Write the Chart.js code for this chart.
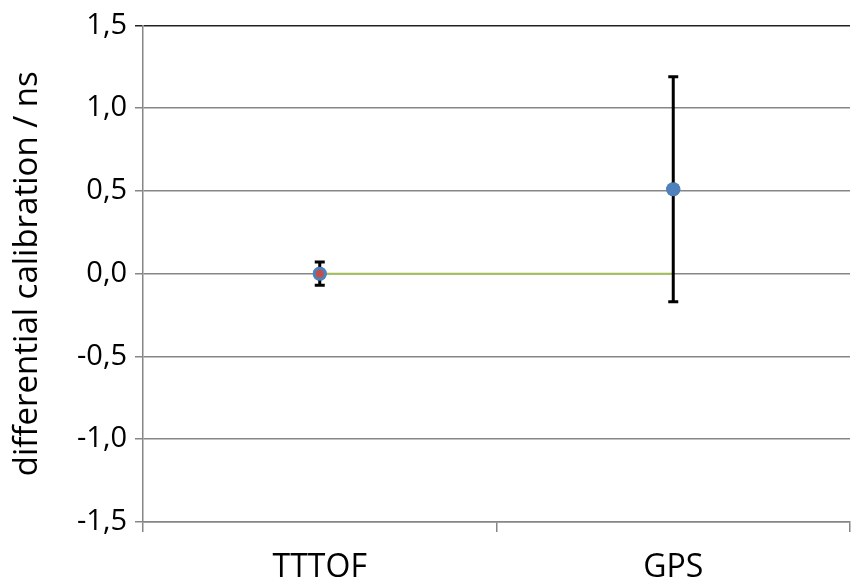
<!DOCTYPE html>
<html><head><meta charset="utf-8">
<script src="https://cdn.jsdelivr.net/npm/chart.js@4"></script>
<style>html,body{margin:0;padding:0;background:#fff;}#wrap{width:857px;height:586px;}</style>
</head><body><div id="wrap"><canvas id="c" width="857" height="586"></canvas></div>
<script>
const categories = ['TTTOF', 'GPS'];
const values = [0.0, 0.51];
const errLow = [0.07, 0.68];
const errHigh = [0.07, 0.68];
const referenceLine = [0, 0];
const yTicks = [-1.5, -1.0, -0.5, 0.0, 0.5, 1.0, 1.5];

const errorBars = {
  id: 'errorBars',
  afterDatasetsDraw(chart) {
    const ctx = chart.ctx, x = chart.scales.x, y = chart.scales.y;
    ctx.save();
    ctx.strokeStyle = '#000'; ctx.lineWidth = 3;
    values.forEach((v, i) => {
      const px = x.getPixelForValue(i);
      const yt = y.getPixelForValue(v + errHigh[i]);
      const yb = y.getPixelForValue(v - errLow[i]);
      ctx.beginPath();
      ctx.moveTo(px, yt); ctx.lineTo(px, yb);
      ctx.moveTo(px - 5, yt); ctx.lineTo(px + 5, yt);
      ctx.moveTo(px - 5, yb); ctx.lineTo(px + 5, yb);
      ctx.stroke();
    });
    ctx.restore();
    chart.getDatasetMeta(1).data.forEach(p => p.draw(ctx, chart.chartArea));
    chart.getDatasetMeta(2).data.forEach(p => p.draw(ctx, chart.chartArea));
  }
};

new Chart(document.getElementById('c'), {
  type: 'line',
  data: {
    labels: categories,
    datasets: [
      { data: referenceLine, borderColor: '#A4BF5A', borderWidth: 2, pointRadius: 0, order: 3 },
      { data: values, showLine: false, pointRadius: 7, pointBackgroundColor: '#4F81BD', pointBorderColor: '#4F81BD', pointBorderWidth: 0, order: 2 },
      { data: [values[0], null], showLine: false, pointRadius: 4, pointBackgroundColor: '#C0504D', pointBorderColor: '#C0504D', pointBorderWidth: 0, order: 1 }
    ]
  },
  plugins: [errorBars],
  options: {
    responsive: false, animation: false,
    layout: { padding: { top: 20, right: 0, left: 0, bottom: 0 } },
    plugins: { legend: { display: false }, tooltip: { enabled: false } },
    scales: {
      x: {
        offset: true,
        grid: { display: true, drawOnChartArea: false, offset: true, color: '#868686', lineWidth: 1.5, tickLength: 10 },
        border: { display: true, color: '#868686', width: 1.5 },
        ticks: { color: '#000', font: { family: 'Open Sans', size: 32 }, padding: 17 },
        afterFit: s => { s.height = 64; }
      },
      y: {
        min: -1.5, max: 1.5,
        afterBuildTicks: s => { s.ticks = yTicks.map(v => ({ value: v })); },
        grid: { color: c => (c.tick && c.tick.value === 1.5) ? '#222' : '#868686', lineWidth: 1.5, tickLength: 8 },
        border: { display: true, color: '#868686', width: 1.5 },
        ticks: { color: '#000', font: { family: 'Open Sans', size: 29 }, padding: 8,
          callback: v => Number(v).toFixed(1).replace('.', ',') },
        title: { display: true, text: 'differential calibration / ns', color: '#000', font: { family: 'Open Sans', size: 33 }, padding: { top: 8, bottom: 0 } },
        afterFit: s => { s.width = 143; }
      }
    }
  }
});
</script></body></html>
